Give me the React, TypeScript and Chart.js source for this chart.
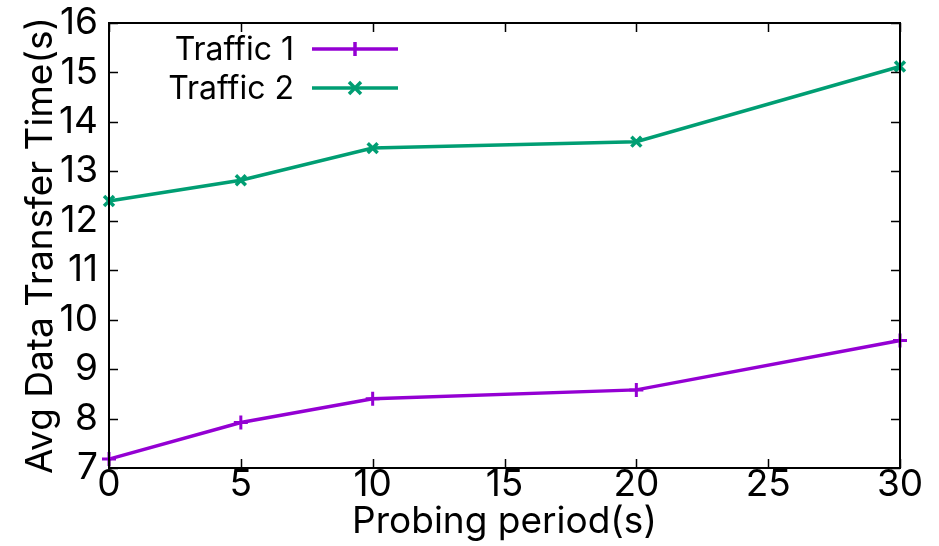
import React, { useEffect, useRef } from "react";
import { Chart, registerables } from "chart.js";

Chart.register(...registerables);

const xValues = [0, 5, 10, 20, 30];
const traffic1 = [7.18, 7.92, 8.4, 8.58, 9.58];
const traffic2 = [12.4, 12.82, 13.47, 13.6, 15.12];
const seriesNames = ["Traffic 1", "Traffic 2"];
const seriesColors = ["#9400D3", "#009E73"];
const xTickValues = [0, 5, 10, 15, 20, 25, 30];
const yTickValues = [7, 8, 9, 10, 11, 12, 13, 14, 15, 16];

const FONT = "Inter, 'Liberation Sans', Arial, sans-serif";

const framePlugin = {
  id: "frameTicks",
  afterDatasetsDraw(chart: any) {
    const { ctx, chartArea, scales } = chart;
    const { left, right, top, bottom } = chartArea;
    ctx.save();
    ctx.strokeStyle = "#000";
    ctx.lineWidth = 1.5;
    ctx.beginPath();
    const tl = 9;
    xTickValues.forEach((v) => {
      const x = Math.round(scales.x.getPixelForValue(v)) + 0.5;
      ctx.moveTo(x, bottom);
      ctx.lineTo(x, bottom - tl);
      ctx.moveTo(x, top);
      ctx.lineTo(x, top + tl);
    });
    yTickValues.forEach((v) => {
      const y = Math.round(scales.y.getPixelForValue(v)) + 0.5;
      ctx.moveTo(left, y);
      ctx.lineTo(left + tl, y);
      ctx.moveTo(right, y);
      ctx.lineTo(right - tl, y);
    });
    ctx.stroke();
    ctx.lineWidth = 2;
    ctx.strokeRect(left, top, right - left, bottom - top);
    ctx.restore();
  },
};

const legendPlugin = {
  id: "gnuLegend",
  afterDraw(chart: any) {
    const { ctx } = chart;
    ctx.save();
    const textRight = 294;
    const lineL = 312;
    const lineR = 398;
    const rows = [49, 88];
    chart.data.datasets.forEach((ds: any, i: number) => {
      const y = rows[i];
      ctx.fillStyle = "#000";
      ctx.font = `32px ${FONT}`;
      ctx.textAlign = "right";
      ctx.textBaseline = "middle";
      ctx.fillText(ds.label, textRight, y + 1);
      ctx.strokeStyle = ds.borderColor;
      ctx.lineWidth = 3.5;
      ctx.beginPath();
      ctx.moveTo(lineL, y);
      ctx.lineTo(lineR, y);
      ctx.stroke();
      const cx = (lineL + lineR) / 2;
      const r = 6;
      ctx.beginPath();
      if (ds.pointStyle === "cross") {
        ctx.moveTo(cx, y - r - 1);
        ctx.lineTo(cx, y + r + 1);
      } else {
        ctx.moveTo(cx - r, y - r);
        ctx.lineTo(cx + r, y + r);
        ctx.moveTo(cx - r, y + r);
        ctx.lineTo(cx + r, y - r);
      }
      ctx.stroke();
    });
    ctx.restore();
  },
};

export default function App() {
  const ref = useRef<HTMLCanvasElement>(null);
  useEffect(() => {
    if (!ref.current) return;
    const chart = new Chart(ref.current, {
      type: "line",
      data: {
        datasets: [
          {
            label: seriesNames[0],
            data: xValues.map((x, i) => ({ x, y: traffic1[i] })),
            borderColor: seriesColors[0],
            backgroundColor: seriesColors[0],
            borderWidth: 3.5,
            pointStyle: "cross",
            pointRadius: 7,
            pointBorderWidth: 3,
            fill: false,
            tension: 0,
            clip: false,
          },
          {
            label: seriesNames[1],
            data: xValues.map((x, i) => ({ x, y: traffic2[i] })),
            borderColor: seriesColors[1],
            backgroundColor: seriesColors[1],
            borderWidth: 3.5,
            pointStyle: "crossRot",
            pointRadius: 7,
            pointBorderWidth: 3.5,
            fill: false,
            tension: 0,
            clip: false,
          },
        ],
      },
      options: {
        responsive: false,
        animation: false,
        layout: { padding: { top: 23, right: 39, left: 0, bottom: 0 } },
        plugins: { legend: { display: false }, tooltip: { enabled: false } },
        scales: {
          x: {
            type: "linear",
            min: 0,
            max: 30,
            afterFit: (s: any) => {
              s.height = 78;
              s.paddingLeft = 0;
              s.paddingRight = 0;
            },
            afterBuildTicks: (s: any) => {
              s.ticks = xTickValues.map((v) => ({ value: v }));
            },
            grid: { display: false, drawTicks: false },
            border: { display: false },
            ticks: {
              color: "#000",
              font: { family: FONT, size: 37 },
              padding: -5,
              maxRotation: 0,
              autoSkip: false,
            },
            title: {
              display: true,
              text: "Probing period(s)",
              color: "#000",
              font: { family: FONT, size: 37 },
              padding: { top: 0, bottom: 2 },
            },
          },
          y: {
            type: "linear",
            min: 7,
            max: 16,
            afterFit: (s: any) => {
              s.width = 109;
              s.paddingTop = 0;
              s.paddingBottom = 0;
            },
            afterBuildTicks: (s: any) => {
              s.ticks = yTickValues.map((v) => ({ value: v }));
            },
            grid: { display: false, drawTicks: false },
            border: { display: false },
            ticks: {
              color: "#000",
              font: { family: FONT, size: 37 },
              padding: 11,
              autoSkip: false,
            },
            title: {
              display: true,
              text: "Avg Data Transfer Time(s)",
              color: "#000",
              font: { family: FONT, size: 37 },
              padding: { top: 19, bottom: 0 },
            },
          },
        },
      },
      plugins: [framePlugin, legendPlugin],
    });
    return () => chart.destroy();
  }, []);
  return (
    <div style={{ position: "absolute", left: 0, top: 0, width: 939, height: 546, background: "#fff" }}>
      <canvas ref={ref} width={939} height={546} />
    </div>
  );
}
